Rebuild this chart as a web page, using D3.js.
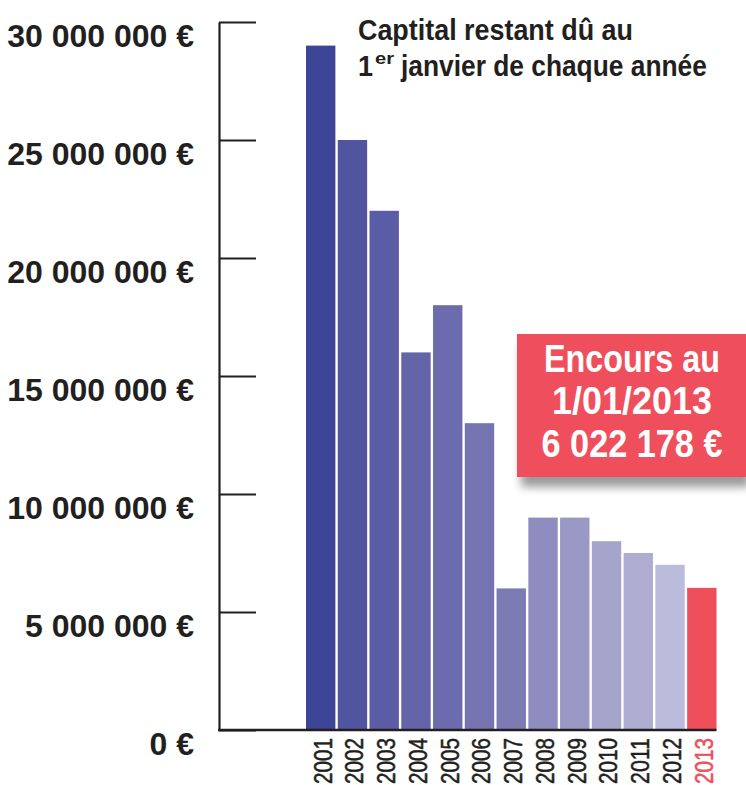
<!DOCTYPE html>
<html>
<head>
<meta charset="utf-8">
<script src="https://cdn.jsdelivr.net/npm/d3@7"></script>
<style>
  html, body { margin: 0; padding: 0; background: #fff; }
  svg { display: block; }
  .cond { font-family: "Liberation Sans", Arial, sans-serif; }
</style>
</head>
<body>
<div id="chart"></div>
<script>
// --------------------------------------------------------
// DATA
// --------------------------------------------------------
const years = ["2001", "2002", "2003", "2004", "2005", "2006", "2007",
  "2008", "2009", "2010", "2011", "2012", "2013"];
const capital = [29000000, 25000000, 22000000, 16000000, 18000000, 13000000, 6000000,
  9000000, 9000000, 8000000, 7500000, 7000000, 6022178];
const yTicks = [0, 5000000, 10000000, 15000000, 20000000, 25000000, 30000000];
const titleLines = ["Captital restant dû au", "janvier de chaque année"];
const calloutLines = ["Encours au", "1/01/2013", "6 022 178 €"];

// bar palette (dark to light blue, last year in red)
const barColors = ["#3d4696", "#5155a0", "#5a5da5", "#6465a9", "#6c6bad", "#7573b0", "#7d7bb4",
  "#8f8dbf", "#9a98c5", "#a5a4cb", "#aeadd1", "#bbbbdc", "#ef4f5b"];
const red = "#ef4f5b";
const ink = "#231f20";

// --------------------------------------------------------
// SETUP
// --------------------------------------------------------
const width = 746;
const height = 785;

const svg = d3.select("#chart")
  .append("svg")
  .attr("width", width)
  .attr("height", height)
  .attr("class", "cond");

const defs = svg.append("defs");
const shadow = defs.append("filter").attr("id", "shadow")
  .attr("x", "-20%").attr("y", "-20%").attr("width", "150%").attr("height", "160%");
shadow.append("feGaussianBlur").attr("in", "SourceAlpha").attr("stdDeviation", 5);
shadow.append("feOffset").attr("dx", 4).attr("dy", 10).attr("result", "blur");
shadow.append("feComponentTransfer").append("feFuncA").attr("type", "linear").attr("slope", 0.4);
const merge = shadow.append("feMerge");
merge.append("feMergeNode");
merge.append("feMergeNode").attr("in", "SourceGraphic");

const y = d3.scaleLinear().domain([0, 30000000]).range([730, 22]);
const x = d3.scaleBand().domain(years).range([306, 716.5]).paddingInner(0.075).paddingOuter(0);

const fmt = (v) => d3.format(",")(v).replace(/,/g, " ") + " €";

// squeeze a text horizontally (condensed look) around its anchor x
function condense(sel, target) {
  sel.each(function (d, i) {
    const node = this;
    const w = node.getComputedTextLength();
    const t = typeof target === "function" ? target(d, i) : target;
    const ax = +node.getAttribute("x");
    const s = t / w;
    d3.select(node).attr("transform", `translate(${ax},0) scale(${s},1) translate(${-ax},0)`);
  });
}

// --------------------------------------------------------
// BARS
// --------------------------------------------------------
svg.append("g")
  .selectAll("rect")
  .data(years)
  .join("rect")
  .attr("x", (d) => x(d))
  .attr("width", x.bandwidth())
  .attr("y", (d, i) => y(capital[i]))
  .attr("height", (d, i) => y(0) - y(capital[i]))
  .attr("fill", (d, i) => barColors[i]);

// --------------------------------------------------------
// AXES
// --------------------------------------------------------
const yAxis = d3.axisLeft(y)
  .tickValues(yTicks)
  .tickSizeInner(-37)
  .tickSizeOuter(0)
  .tickPadding(25)
  .tickFormat(fmt);

const gy = svg.append("g")
  .attr("transform", "translate(219,0)")
  .call(yAxis);
gy.select(".domain").attr("stroke", ink).attr("stroke-width", 2.2);
gy.selectAll(".tick line").attr("stroke", ink).attr("stroke-width", 2.2);
gy.selectAll(".tick text")
  .attr("fill", ink)
  .attr("font-family", "'Liberation Sans', Arial, sans-serif")
  .attr("font-weight", "bold")
  .attr("font-size", 32)
  .attr("dy", "0.76em");

// baseline
svg.append("line")
  .attr("x1", 218).attr("x2", 716.5)
  .attr("y1", y(0)).attr("y2", y(0))
  .attr("stroke", ink).attr("stroke-width", 2.4);

const xAxis = d3.axisBottom(x).tickSize(0).tickPadding(0);
const gx = svg.append("g")
  .attr("transform", `translate(0,${y(0)})`)
  .call(xAxis);
gx.select(".domain").remove();
gx.selectAll(".tick text")
  .attr("font-family", "'Liberation Sans', Arial, sans-serif")
  .attr("font-size", 26)
  .attr("fill", (d) => (d === "2013" ? red : ink))
  .attr("stroke", (d) => (d === "2013" ? red : ink))
  .attr("stroke-width", 0.5)
  .attr("text-anchor", "end")
  .attr("transform", "rotate(-90)")
  .attr("x", -8)
  .attr("y", 0)
  .attr("dy", "0.42em")
  .attr("textLength", 46)
  .attr("lengthAdjust", "spacingAndGlyphs");

// --------------------------------------------------------
// TITLE
// --------------------------------------------------------
const title = svg.append("g").attr("fill", ink).attr("font-weight", "bold").attr("font-size", 30);
title.append("text").attr("x", 358).attr("y", 40)
  .text(titleLines[0])
  .call(condense, 275);
title.append("text").attr("x", 358).attr("y", 76).text("1")
  .call(condense, 15);
title.append("text").attr("x", 375).attr("y", 64).attr("font-size", 16)
  .text("er")
  .call(condense, 19);
title.append("text").attr("x", 401).attr("y", 76)
  .text(titleLines[1])
  .call(condense, 306);

// --------------------------------------------------------
// CALLOUT
// --------------------------------------------------------
const calloutWidths = [176, 160, 181];
const callout = svg.append("g");
callout.append("rect")
  .attr("x", 517).attr("y", 334)
  .attr("width", 229).attr("height", 143)
  .attr("fill", red)
  .attr("filter", "url(#shadow)");
callout.selectAll("text")
  .data(calloutLines)
  .join("text")
  .attr("x", 632)
  .attr("y", (d, i) => 372 + i * 42.5)
  .attr("text-anchor", "middle")
  .attr("fill", "#fff")
  .attr("font-weight", "bold")
  .attr("font-size", 38)
  .text((d) => d)
  .call(condense, (d, i) => calloutWidths[i]);
</script>
</body>
</html>
